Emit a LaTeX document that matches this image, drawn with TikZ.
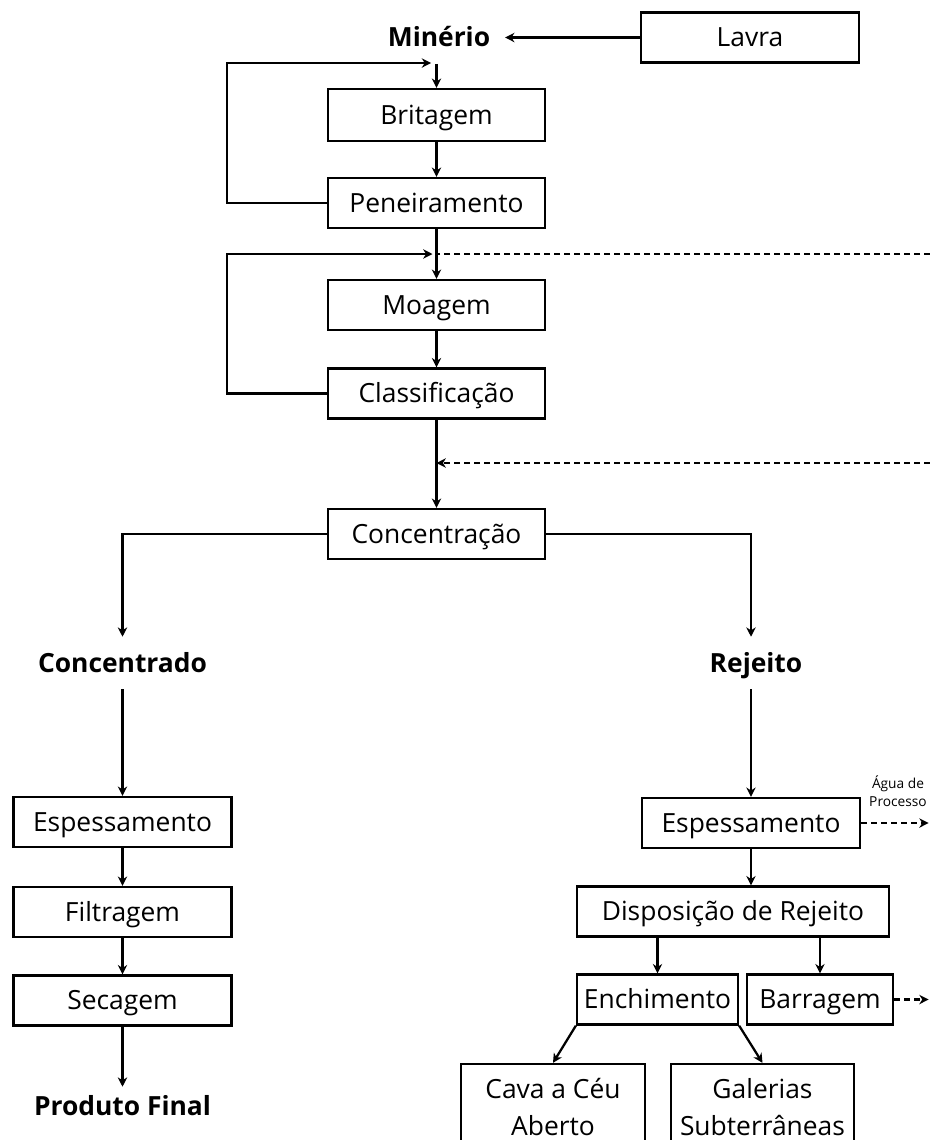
\documentclass[tikz,border=0pt]{standalone}
\usepackage{fontspec}
\setmainfont{Open Sans}
\usetikzlibrary{arrows.meta}
\newcommand\stepfont{\fontsize{19.8pt}{27.5pt}\selectfont}
\newcommand\headfont{\fontsize{19.8pt}{27.5pt}\selectfont\bfseries}
\newcommand\notefont{\fontsize{10.3pt}{13.5pt}\selectfont}
\begin{document}
\begin{tikzpicture}[x=0.75pt,y=-0.75pt,
  stepbox/.style={draw, line width=1.7pt, inner sep=0pt, minimum height=37.5pt,
    minimum width=217*0.75pt, font=\stepfont, text height=14pt, text depth=0pt},
  twoline/.style={stepbox, align=center, text height=, text depth=},
  head/.style={font=\headfont, inner sep=0pt, text height=14pt, text depth=0pt,
    minimum height=39pt},
  tip/.style={-{Stealth[length=7pt,width=7pt,inset=2.2pt]}},
  flow/.style={line width=1.7pt, tip},
  water/.style={line width=1.7pt, dash pattern=on 4.5pt off 3pt},
]
\useasboundingbox (0,0) rectangle (930,1140);
\clip (0,0) rectangle (930,1140);

% ---- comminution circuit ----
\node[head] (minerio) at (439,37.5) {Minério};
\node[stepbox, minimum width=218*0.75pt] (lavra) at (750,37.5) {Lavra};
\node[stepbox, minimum height=52*0.75pt] (brit) at (436.5,115) {Britagem};
\node[stepbox] (pen)  at (436.5,203)   {Peneiramento};
\node[stepbox] (moag) at (436.5,305)   {Moagem};
\node[stepbox] (clas) at (436.5,393.5) {Classificação};
\node[stepbox] (conc) at (436.5,534)   {Concentração};

\coordinate (feed1) at (436.5,63);
\coordinate (loop1) at (227,63);
\coordinate (feed2) at (436.5,254);
\coordinate (loop2) at (227,254);
\coordinate (feed3) at (436.5,463);
\coordinate (w1) at (930,254);
\coordinate (w2) at (930,463);

\draw[flow, shorten >=11pt] (lavra) -- (minerio);
\draw[flow] (minerio.south -| brit.north) -- (brit.north);
\draw[flow] (brit) -- (pen);
\draw[flow, shorten >=4pt] (pen.west) -| (loop1) -- (feed1);
\draw[flow] (pen) -- (moag);
\draw[flow, shorten >=3pt] (clas.west) -| (loop2) -- (feed2);
\draw[water] (w1) -- (feed2);
\draw[flow] (moag) -- (clas);
\draw[flow] (clas) -- (conc);
\draw[water, tip] (w2) -- (feed3);

% ---- concentrate line ----
\node[head] (concd) at (122.5,663) {Concentrado};
\node[stepbox, minimum width=218*0.75pt] (espL) at (122.5,822)  {Espessamento};
\node[stepbox, minimum width=218*0.75pt] (filt) at (122.5,912)  {Filtragem};
\node[stepbox, minimum width=218*0.75pt] (sec)  at (122.5,1000.5) {Secagem};
\node[head, minimum height=28.5pt] (prod) at (122.5,1106) {Produto Final};

\draw[flow] (conc.west) -| (concd.north);
\draw[flow] (concd.south) -- (espL.north);
\draw[flow] (espL) -- (filt);
\draw[flow] (filt) -- (sec);
\draw[flow] (sec) -- (prod);

% ---- tailings line ----
\node[stepbox, minimum width=218*0.75pt] (espR) at (751,823) {Espessamento};
\node[head] (rej) at (756,663) {Rejeito};
\node[stepbox, minimum width=312*0.75pt] (disp) at (733,911.5) {Disposição de Rejeito};
\node[stepbox, minimum width=161*0.75pt] (ench) at (657.5,999.5) {Enchimento};
\node[stepbox, minimum width=146*0.75pt] (barr) at (820,999.5) {Barragem};
\node[twoline, minimum width=184*0.75pt, minimum height=86*0.75pt] (cava) at (553,1107)
  {Cava a Céu\\Aberto};
\node[twoline, minimum width=183*0.75pt, minimum height=86*0.75pt] (gal) at (762.5,1107)
  {Galerias\\Subterrâneas};
\node[font=\notefont, align=center, inner sep=0pt] (agua) at (898,791) {Água de\\Processo};

\coordinate (w3) at (930,823);
\coordinate (w4) at (930,999.5);

\draw[flow] (conc.east) -| (espR.north |- rej.north);
\draw[flow] (espR.north |- rej.south) -- (espR.north);
\draw[flow] (espR.south) -- (espR.south |- disp.north);
\draw[water, tip, shorten >=1pt] (espR.east) -- (w3);
\draw[flow] (disp.south -| ench.north) -- (ench.north);
\draw[flow] (disp.south -| barr.north) -- (barr.north);
\draw[water, tip, shorten >=1pt] (barr.east) -- (w4);
\draw[flow] (ench.south west) -- (cava.north);
\draw[flow] (ench.south east) -- (gal.north);
\end{tikzpicture}
\end{document}
